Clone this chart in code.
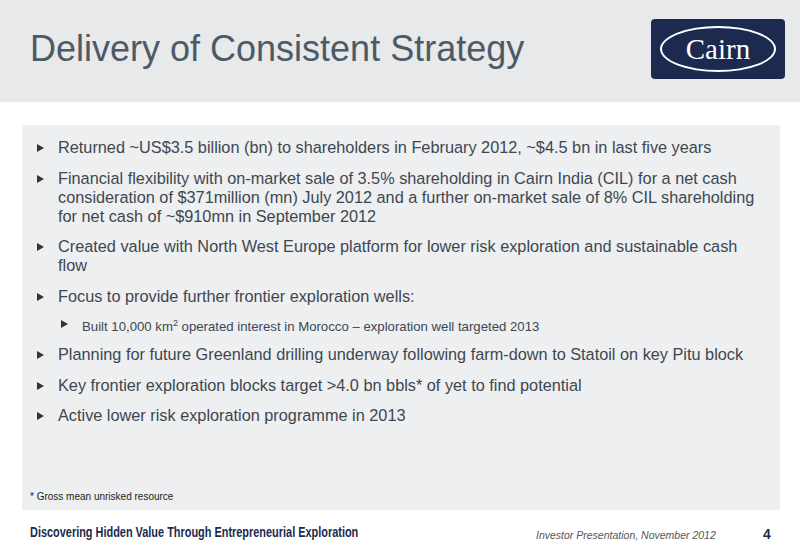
<!DOCTYPE html>
<html><head><meta charset="utf-8">
<script src="https://cdn.jsdelivr.net/npm/chart.js@4"></script>
<style>
body{margin:0;width:800px;height:554px;background:#fff;font-family:"Liberation Sans",Arial,sans-serif;position:relative;overflow:hidden}
#head{position:absolute;left:0;top:0;width:800px;height:102px;background:#e8e9ea}
#title{position:absolute;left:30px;top:28px;font-size:36px;color:#4d5a66}
#logo{position:absolute;left:651px;top:19px;width:134px;height:60px;background:#1b2a4e;border-radius:4px}
#logo div{position:absolute;left:9px;top:7px;width:112px;height:42px;border:2px solid #fff;border-radius:50%;color:#fff;font-family:"Liberation Serif",serif;font-size:29px;text-align:center;line-height:42px}
#box{position:absolute;left:22px;top:125px;width:758px;height:385px;background:#eeeff0}
ul{list-style:none;margin:0;padding:0;position:absolute;left:35px;top:138px;width:732px;font-size:16.3px;color:#3d4750;line-height:19px}
li{position:relative;padding-left:23px;margin-bottom:11.5px}
li:before{content:"";position:absolute;left:2px;top:6px;border-left:7px solid #333;border-top:4px solid transparent;border-bottom:4px solid transparent}
li.sub{margin-left:24px;font-size:13.2px;margin-top:-3px;margin-bottom:9px}
#note{position:absolute;left:30px;top:491px;font-size:10px;color:#222}
#foot{position:absolute;left:30px;top:524px;font-family:"Liberation Sans Narrow",Arial,sans-serif;font-size:14px;font-weight:bold;color:#1b2a4e;transform-origin:0 0;transform:scaleX(0.78);white-space:nowrap}
#ip{position:absolute;left:536px;top:529px;font-size:10.5px;font-style:italic;color:#555}
#pg{position:absolute;left:763px;top:526px;font-size:14px;font-weight:bold;color:#1b2a4e}
canvas{display:none}
</style></head><body>
<div id="head"></div>
<div id="title">Delivery of Consistent Strategy</div>
<div id="logo"><div>Cairn</div></div>
<div id="box"></div>
<ul id="list"></ul>
<div id="note">* Gross mean unrisked resource</div>
<div id="foot">Discovering Hidden Value Through Entrepreneurial Exploration</div>
<div id="ip">Investor Presentation, November 2012</div>
<div id="pg">4</div>
<canvas id="c"></canvas>
<script>
const bullets = [
  "Returned ~US$3.5 billion (bn) to shareholders in February 2012, ~$4.5 bn in last five years",
  "Financial flexibility with on-market sale of 3.5% shareholding in Cairn India (CIL) for a net cash consideration of $371million (mn) July 2012 and a further on-market sale of 8% CIL shareholding for net cash of ~$910mn in September 2012",
  "Created value with North West Europe platform for lower risk exploration and sustainable cash flow",
  "Focus to provide further frontier exploration wells:",
  "Built 10,000 km<sup style='font-size:9px'>2</sup> operated interest in Morocco – exploration well targeted 2013",
  "Planning for future Greenland drilling underway following farm-down to Statoil on key Pitu block",
  "Key frontier exploration blocks target >4.0 bn bbls* of yet to find potential",
  "Active lower risk exploration programme in 2013"
];
const subItems = [4];
document.getElementById("list").innerHTML = bullets.map((b, i) =>
  `<li class="${subItems.includes(i) ? "sub" : ""}">${b}</li>`).join("");
</script>
</body></html>
